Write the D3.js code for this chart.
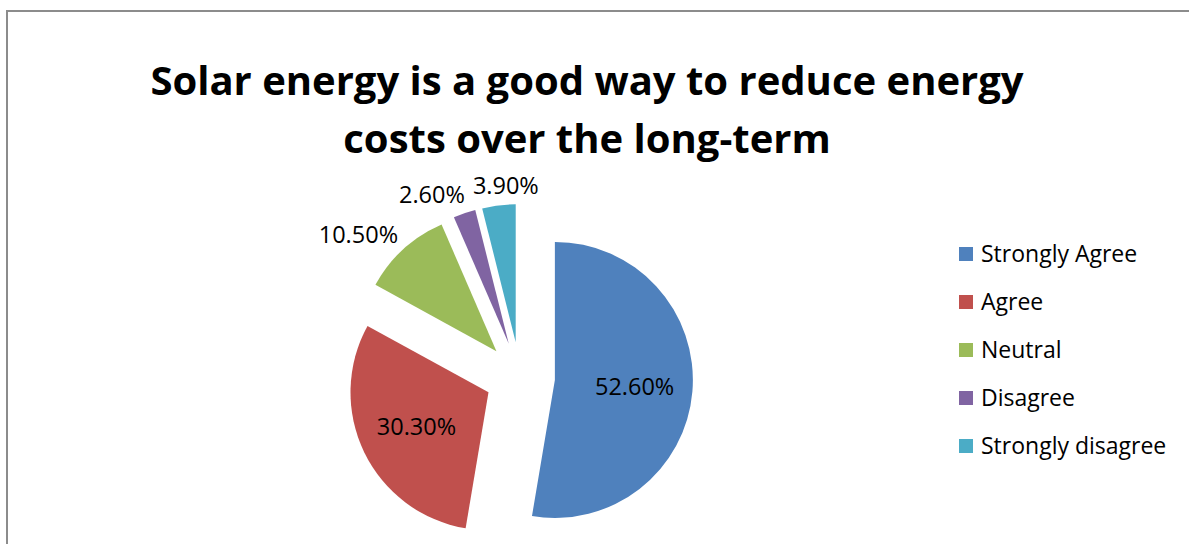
<!DOCTYPE html>
<html>
<head>
<meta charset="utf-8">
<script src="https://cdn.jsdelivr.net/npm/d3@7"></script>
<style>
  body { margin: 0; background: #fff; }
  text { font-family: "Open Sans", sans-serif; }
</style>
</head>
<body>
<div id="container"></div>
<script>
// Chart data
const categories = ['Strongly Agree', 'Agree', 'Neutral', 'Disagree', 'Strongly disagree'];
const values = [52.6, 30.3, 10.5, 2.6, 3.9];
const colors = ['#4F81BD', '#C0504D', '#9BBB59', '#8064A2', '#4BACC6'];
const titleLines = ['Solar energy is a good way to reduce energy', 'costs over the long-term'];

const width = 1189;
const height = 544;

const svg = d3.select('#container').append('svg')
    .attr('width', width)
    .attr('height', height);

// Chart frame (runs off the right and bottom edge)
svg.append('rect')
    .attr('x', 7)
    .attr('y', 11)
    .attr('width', width + 20)
    .attr('height', height + 20)
    .attr('fill', '#fff')
    .attr('stroke', '#8c8c8c')
    .attr('stroke-width', 2);

// Title
svg.append('text')
    .attr('x', 587)
    .attr('y', 95)
    .attr('text-anchor', 'middle')
    .attr('font-size', 40)
    .attr('font-weight', 'bold')
    .selectAll('tspan')
    .data(titleLines)
    .enter().append('tspan')
    .attr('x', 587)
    .attr('dy', (d, i) => i === 0 ? 0 : 58)
    .text(d => d);

// Exploded pie
const cx = 520, cy = 377;
const radius = 138;
const explode = 35;

const pie = d3.pie().sort(null).value(d => d);
const arc = d3.arc().innerRadius(0).outerRadius(radius);
const slices = pie(values);

const dir = d => {
    const m = (d.startAngle + d.endAngle) / 2;
    return [Math.sin(m), -Math.cos(m)];
};
const sliceCenter = d => {
    const [dx, dy] = dir(d);
    return [cx + explode * dx, cy + explode * dy];
};

svg.append('g').selectAll('path')
    .data(slices)
    .enter().append('path')
    .attr('transform', d => `translate(${sliceCenter(d)})`)
    .attr('d', arc)
    .attr('fill', (d, i) => colors[i]);

// Data labels: big slices inside, small ones outside
const fmt = v => d3.format('.2f')(v) + '%';
const labelSize = 23.5;
const labelG = svg.append('g');
const labels = slices.map((d, i) => {
    const t = labelG.append('text')
        .attr('font-size', labelSize)
        .attr('text-anchor', 'middle')
        .attr('dy', '0.35em')
        .attr('fill', '#000')
        .text(fmt(values[i]));
    const w = t.node().getComputedTextLength();
    const [dx, dy] = dir(d);
    const [sx, sy] = sliceCenter(d);
    const inside = (d.endAngle - d.startAngle) / (2 * Math.PI) > 0.2;
    let x, y;
    if (inside) {
        x = sx + radius * 0.58 * dx;
        y = sy + radius * 0.58 * dy;
    } else {
        const r = radius + 8;
        x = sx + r * dx + w / 2 * Math.max(-1, Math.min(1, 1.5 * dx));
        y = sy + r * dy + labelSize / 2 * dy;
    }
    return { t, x, y, w, inside };
});

// push overlapping outside labels apart
const outside = labels.filter(l => !l.inside).sort((a, b) => a.x - b.x);
for (let k = 1; k < outside.length; k++) {
    const a = outside[k - 1], b = outside[k];
    const gap = (a.x + a.w / 2 + 8) - (b.x - b.w / 2);
    if (gap > 0 && Math.abs(a.y - b.y) < labelSize) {
        a.x -= gap / 2;
        b.x += gap / 2;
    }
}
labels.forEach(l => l.t.attr('x', l.x).attr('y', l.y));

// Legend
const legend = svg.append('g').attr('transform', 'translate(959,254)');
const items = legend.selectAll('g')
    .data(categories)
    .enter().append('g')
    .attr('transform', (d, i) => `translate(0,${i * 48})`);

items.append('rect')
    .attr('x', 0)
    .attr('y', -7)
    .attr('width', 14)
    .attr('height', 14)
    .attr('fill', (d, i) => colors[i]);

items.append('text')
    .attr('x', 22)
    .attr('dy', '0.35em')
    .attr('font-size', 23)
    .text(d => d);
</script>
</body>
</html>
